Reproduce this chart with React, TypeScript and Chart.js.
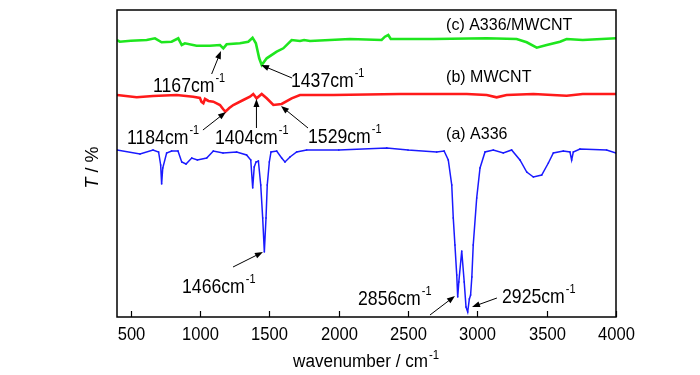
import React, { useEffect, useRef } from "react";
import { Chart, registerables } from "chart.js";

Chart.register(...registerables);

// ---------- data ----------
const xTicks = [500, 1000, 1500, 2000, 2500, 3000, 3500, 4000];

const a336Wn = [400, 566, 660, 700, 715, 722, 730, 758, 794, 840, 867, 898, 939, 980, 1047, 1095, 1165, 1263, 1335, 1365, 1379, 1390, 1403, 1420, 1437, 1451, 1463, 1475, 1484, 1499, 1511, 1552, 1588, 1612, 1648, 1696, 1768, 2000, 2346, 2500, 2706, 2760, 2790, 2815, 2826, 2838, 2851, 2858, 2866, 2887, 2905, 2918, 2930, 2942, 2951, 2960, 2970, 2995, 3019, 3055, 3115, 3187, 3247, 3307, 3356, 3404, 3464, 3512, 3548, 3620, 3668, 3680, 3692, 3740, 3932, 4000];
const a336T = [167, 163, 167, 165, 152, 133, 149, 164, 166, 166, 155, 153, 159, 157, 159, 166, 164, 165, 162, 157, 129, 150, 155, 156, 132, 99, 65, 99, 132, 155, 165, 166, 159, 155, 160, 165, 167, 167, 169, 167, 165, 166, 157, 132, 99, 72, 42, 20, 35, 66, 35, 10, 5, 18, 22, 40, 72, 119, 149, 165, 167, 164, 167, 157, 145, 140, 142, 154, 164, 166, 165, 157, 165, 168, 167, 164];

const mwcntWn = [400, 542, 660, 830, 950, 998, 1010, 1023, 1035, 1060, 1095, 1143, 1165, 1182, 1210, 1239, 1311, 1359, 1383, 1407, 1444, 1480, 1528, 1588, 1660, 1720, 1960, 2442, 2923, 3067, 3139, 3211, 3404, 3644, 3760, 4000];
const mwcntT = [222, 219.7, 221, 222, 220.3, 219, 215, 213.7, 218, 216, 215.3, 212, 208, 205.3, 209, 212, 217, 220.3, 223, 218.7, 223, 218.7, 212, 213, 218.7, 222, 222, 223, 223, 222, 219.7, 222, 223, 221.3, 223, 223];

const compWn = [400, 420, 500, 614, 674, 722, 794, 842, 867, 890, 974, 1070, 1143, 1167, 1191, 1287, 1347, 1378, 1402, 1426, 1444, 1480, 1552, 1600, 1660, 1720, 1750, 1792, 2081, 2309, 2333, 2357, 2375, 2682, 3067, 3283, 3356, 3428, 3500, 3596, 3644, 3760, 4000];
const compT = [277, 275.3, 276.3, 277, 278.7, 274.7, 275.3, 278.7, 272, 273.7, 271.3, 271.3, 272, 268.7, 272.7, 273.7, 275.3, 279.3, 273.7, 258.7, 252, 258.7, 265.3, 268.7, 277, 276, 277, 276, 278, 277, 280.3, 282, 278, 278, 278.7, 278, 274.7, 269.3, 272, 275.3, 278, 277, 278.7];

const seriesNames = ["(a) A336", "(b) MWCNT", "(c) A336/MWCNT"];
const peakLabels = ["1167", "1437", "1184", "1404", "1529", "1466", "2856", "2925"];

// ---------- annotation layout (data coordinates) ----------
const seriesLabelPos = [
  { x: 2774, y: 178 },
  { x: 2774, y: 235 },
  { x: 2774, y: 287.5 },
];
const peakLayout = [
  { tx: 660, ty: 225, fx: 1083, fy: 243, hx: 1150, hy: 266 },
  { tx: 1655, ty: 230, fx: 1663, fy: 239, hx: 1439, hy: 252 },
  { tx: 472, ty: 173, fx: 1020, fy: 187, hx: 1186, hy: 205 },
  { tx: 1107, ty: 173, fx: 1406, fy: 189, hx: 1406, hy: 218 },
  { tx: 1778, ty: 174, fx: 1778, fy: 189, hx: 1583, hy: 211 },
  { tx: 869, ty: 24, fx: 1237, fy: 50, hx: 1453, hy: 65 },
  { tx: 2139, ty: 12, fx: 2658, fy: 2, hx: 2838, hy: 21 },
  { tx: 3178, ty: 14, fx: 3141, fy: 19, hx: 2961, hy: 10 },
];

const FONT = "'Liberation Sans', Arial, sans-serif";

function toXY(xs: number[], ys: number[]) {
  return xs.map((x, i) => ({ x, y: ys[i] }));
}

function drawScaledText(ctx: CanvasRenderingContext2D, text: string, x: number, y: number, size: number, sx: number, style = "") {
  ctx.save();
  ctx.translate(x, y);
  ctx.scale(sx, 1);
  ctx.font = `${style}${size}px ${FONT}`;
  ctx.fillText(text, 0, 0);
  const w = ctx.measureText(text).width * sx;
  ctx.restore();
  return w;
}

function drawArrow(ctx: CanvasRenderingContext2D, x1: number, y1: number, x2: number, y2: number) {
  const ang = Math.atan2(y2 - y1, x2 - x1);
  const L = 8, W = 3;
  ctx.save();
  ctx.strokeStyle = "#000";
  ctx.fillStyle = "#000";
  ctx.lineWidth = 1;
  ctx.beginPath();
  ctx.moveTo(x1, y1);
  ctx.lineTo(x2 - Math.cos(ang) * L * 0.8, y2 - Math.sin(ang) * L * 0.8);
  ctx.stroke();
  ctx.beginPath();
  ctx.moveTo(x2, y2);
  ctx.lineTo(x2 - Math.cos(ang) * L + Math.sin(ang) * W, y2 - Math.sin(ang) * L - Math.cos(ang) * W);
  ctx.lineTo(x2 - Math.cos(ang) * L - Math.sin(ang) * W, y2 - Math.sin(ang) * L + Math.cos(ang) * W);
  ctx.closePath();
  ctx.fill();
  ctx.restore();
}

const decorPlugin = {
  id: "decor",
  afterDraw(chart: any) {
    const ctx: CanvasRenderingContext2D = chart.ctx;
    const { left, right, top, bottom } = chart.chartArea;
    const xs = chart.scales.x;
    const ys = chart.scales.y;
    ctx.save();
    // frame
    ctx.strokeStyle = "#000";
    ctx.lineWidth = 1.5;
    ctx.strokeRect(left, top, right - left, bottom - top);
    // ticks + labels
    ctx.lineWidth = 1.2;
    ctx.fillStyle = "#000";
    ctx.textBaseline = "alphabetic";
    for (const t of xTicks) {
      const px = Math.round(xs.getPixelForValue(t)) + 0.5;
      ctx.beginPath();
      ctx.moveTo(px, bottom);
      ctx.lineTo(px, bottom - 6);
      ctx.stroke();
      ctx.font = `18px ${FONT}`;
      const w = ctx.measureText(String(t)).width * 0.92;
      drawScaledText(ctx, String(t), px - w / 2, bottom + 23, 18, 0.92);
    }
    // x title
    {
      const main = "wavenumber / cm";
      ctx.font = `18px ${FONT}`;
      const w = ctx.measureText(main).width * 0.95;
      const cx = (left + right) / 2 - 6;
      const x0 = cx - w / 2;
      drawScaledText(ctx, main, x0, bottom + 50, 18, 0.95);
      drawScaledText(ctx, "-1", x0 + w + 1, bottom + 42, 12, 0.95);
    }
    // y title
    {
      ctx.save();
      ctx.translate(98, (top + bottom) / 2 + 4);
      ctx.rotate(-Math.PI / 2);
      ctx.font = `italic 18px ${FONT}`;
      const w1 = ctx.measureText("T").width;
      ctx.font = `18px ${FONT}`;
      const w2 = ctx.measureText(" / %").width;
      const x0 = -(w1 + w2) / 2;
      ctx.font = `italic 18px ${FONT}`;
      ctx.fillText("T", x0, 0);
      ctx.font = `18px ${FONT}`;
      ctx.fillText(" / %", x0 + w1, 0);
      ctx.restore();
    }
    // series labels
    seriesNames.forEach((n, i) => {
      const p = seriesLabelPos[i];
      drawScaledText(ctx, n, xs.getPixelForValue(p.x), ys.getPixelForValue(p.y), 16.5, 0.97);
    });
    // peak labels
    peakLabels.forEach((lab, i) => {
      const p = peakLayout[i];
      const tx = xs.getPixelForValue(p.tx);
      const ty = ys.getPixelForValue(p.ty);
      const w = drawScaledText(ctx, lab + "cm", tx, ty, 21, 0.84);
      drawScaledText(ctx, "-1", tx + w + 1, ty - 10, 13, 0.84);
      drawArrow(ctx, xs.getPixelForValue(p.fx), ys.getPixelForValue(p.fy), xs.getPixelForValue(p.hx), ys.getPixelForValue(p.hy));
    });
    ctx.restore();
  },
};

export default function App() {
  const ref = useRef<HTMLCanvasElement | null>(null);
  useEffect(() => {
    document.body.style.margin = "0";
    const canvas = ref.current!;
    const chart = new Chart(canvas, {
      type: "line",
      data: {
        datasets: [
          {
            label: seriesNames[0],
            data: toXY(a336Wn, a336T),
            borderColor: "#1a1aff",
            backgroundColor: "#1a1aff",
            borderWidth: 1.5,
            pointRadius: 1,
            pointBorderWidth: 0,
            pointStyle: "rect",
            tension: 0,
          },
          {
            label: seriesNames[1],
            data: toXY(mwcntWn, mwcntT),
            borderColor: "#ff1a1a",
            borderWidth: 2.6,
            pointRadius: 0,
            tension: 0,
          },
          {
            label: seriesNames[2],
            data: toXY(compWn, compT),
            borderColor: "#1ee61e",
            borderWidth: 2.6,
            pointRadius: 0,
            tension: 0,
          },
        ],
      },
      options: {
        animation: false,
        responsive: false,
        maintainAspectRatio: false,
        layout: { padding: { left: 117, right: 84, top: 10, bottom: 58 } },
        plugins: { legend: { display: false }, tooltip: { enabled: false } },
        scales: {
          x: { type: "linear", min: 400, max: 4000, display: false },
          y: { type: "linear", min: 0, max: 307, display: false },
        },
      },
      plugins: [decorPlugin],
    });
    return () => chart.destroy();
  }, []);
  return (
    <div style={{ width: 700, height: 375, background: "#fff" }}>
      <canvas ref={ref} width={700} height={375} style={{ display: "block", width: 700, height: 375 }} />
    </div>
  );
}
